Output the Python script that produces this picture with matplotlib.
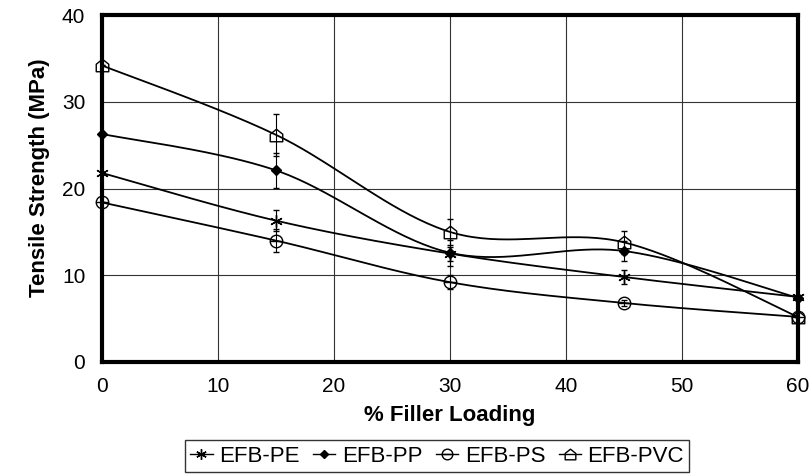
import numpy as np
import matplotlib
matplotlib.use("Agg")
import matplotlib.pyplot as plt
from matplotlib.path import Path

plt.rcParams['font.family'] = ['Liberation Sans', 'DejaVu Sans']

loading = [0, 15, 30, 45, 60]
pe = [21.8, 16.3, 12.5, 9.8, 7.5]
pp = [26.3, 22.1, 12.6, 12.8, 7.4]
ps = [18.4, 14.0, 9.2, 6.8, 5.2]
pvc = [34.2, 26.2, 15.0, 13.8, 5.2]
pe_err = [0, 1.2, 0.8, 0.8, 0]
pp_err = [0, 2.0, 1.5, 1.2, 0]
ps_err = [0, 1.3, 0.8, 0.4, 0]
pvc_err = [0, 2.4, 1.5, 1.3, 0]
labels = ['EFB-PE', 'EFB-PP', 'EFB-PS', 'EFB-PVC']


def smooth(x, y, n=40):
    x = np.asarray(x, float); y = np.asarray(y, float)
    P = np.column_stack([x, y])
    out = []
    for i in range(len(P) - 1):
        p0 = P[max(i - 1, 0)]; p1 = P[i]; p2 = P[i + 1]; p3 = P[min(i + 2, len(P) - 1)]
        c1 = p1 + (p2 - p0) / 6.0
        c2 = p2 - (p3 - p1) / 6.0
        t = np.linspace(0, 1, n)[:, None]
        seg = (1 - t) ** 3 * p1 + 3 * (1 - t) ** 2 * t * c1 + 3 * (1 - t) * t ** 2 * c2 + t ** 3 * p2
        out.append(seg if i == 0 else seg[1:])
    s = np.vstack(out)
    return s[:, 0], s[:, 1]


house = Path([(-1, -1), (1, -1), (1, 0.2), (0, 1), (-1, 0.2), (-1, -1)],
             [Path.MOVETO, Path.LINETO, Path.LINETO, Path.LINETO, Path.LINETO, Path.CLOSEPOLY])
circ_line = Path.unit_circle()
circ_line = Path(np.vstack([circ_line.vertices, [[-1, 0], [1, 0]]]),
                 np.concatenate([circ_line.codes, [Path.MOVETO, Path.LINETO]]))

fig = plt.figure(figsize=(8.11, 4.75), dpi=100)
ax = fig.add_axes([0.1258, 0.238, 0.858, 0.73])

series = [
    (pe, pe_err, (6, 2, 0), 'k', 9),
    (pp, pp_err, 'D', 'k', 5),
    (ps, ps_err, circ_line, 'none', 9),
    (pvc, pvc_err, house, 'none', 9),
]
handles = []
for (vals, err, mk, fc, ms), lab in zip(series, labels):
    sx, sy = smooth(loading, vals)
    ax.plot(sx, sy, color='k', lw=1.3, zorder=3)
    ax.errorbar(loading, vals, yerr=err, fmt='none', ecolor='k', elinewidth=0.8, capsize=2, zorder=3)
    ax.plot(loading, vals, ls='none', marker=mk, ms=ms, mfc=fc, mec='k', mew=1.0, zorder=4, clip_on=False)
    h, = ax.plot([], [], color='k', lw=1.0, marker=mk, ms=ms * 0.85, mfc=fc, mec='k', mew=1.0)
    handles.append(h)

ax.set_xlim(0, 60)
ax.set_ylim(0, 40)
ax.set_xticks(range(0, 61, 10))
ax.set_yticks(range(0, 41, 10))
ax.grid(True, color='#333333', lw=0.8)
ax.set_axisbelow(True)
ax.tick_params(length=0, labelsize=15, pad=11)
ax.tick_params(axis='y', pad=12)
for s in ax.spines.values():
    s.set_linewidth(3)
    s.set_color('k')

ax.set_xlabel('% Filler Loading', fontsize=16, fontweight='bold', labelpad=6)
ax.set_ylabel('Tensile Strength (MPa)', fontsize=16, fontweight='bold')
ax.yaxis.set_label_coords(-0.075, 0.53)

leg = fig.legend(handles, labels, ncol=4, loc='center', bbox_to_anchor=(0.539, 0.04),
                 frameon=True, fancybox=False, edgecolor='k', fontsize=16,
                 handlelength=1.0, handletextpad=0.3, columnspacing=0.6, borderpad=0.25,
                 borderaxespad=0)
leg.get_frame().set_linewidth(1.0)

fig.savefig('out.png', dpi=100)
